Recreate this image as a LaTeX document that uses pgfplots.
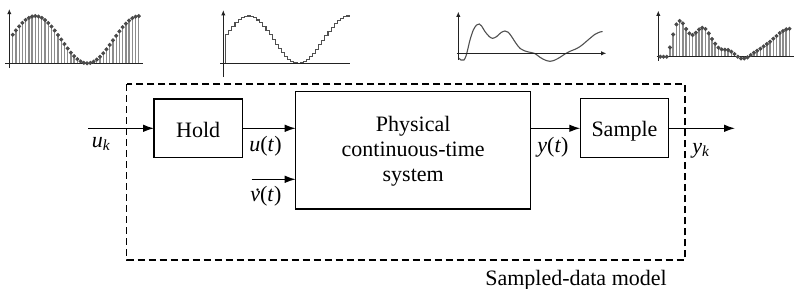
\documentclass[border=0pt]{standalone}
\usepackage{pgfplots}
\pgfplotsset{compat=1.18}
\usepackage{pgfplotstable}
\usepackage{fontspec}
\setmainfont{Liberation Serif}
\usetikzlibrary{arrows.meta}
\definecolor{stemgray}{HTML}{8C8C8C}
\definecolor{markgray}{HTML}{4A4A4A}
\definecolor{curvegray}{HTML}{505050}
\definecolor{axgray}{HTML}{222222}

\pgfplotstableread{
k v
0 1.208
1 1.394
2 1.565
3 1.714
4 1.836
5 1.927
6 1.982
7 2.000
8 1.980
9 1.924
10 1.831
11 1.708
12 1.558
13 1.386
14 1.200
15 1.007
16 0.813
17 0.627
18 0.454
19 0.300
20 0.177
21 0.080
22 0.022
23 0.000
24 0.016
25 0.069
26 0.157
27 0.276
28 0.423
29 0.591
30 0.779
31 0.972
32 1.166
33 1.355
34 1.529
35 1.682
36 1.810
37 1.911
38 1.973
39 1.999
}\sampled

\pgfplotstableread{
k v
0 0
0 1.208
1 1.394
2 1.565
3 1.714
4 1.836
5 1.927
6 1.982
7 2.000
8 1.980
9 1.924
10 1.831
11 1.708
12 1.558
13 1.386
14 1.200
15 1.007
16 0.813
17 0.627
18 0.454
19 0.300
20 0.177
21 0.080
22 0.022
23 0.000
24 0.016
25 0.069
26 0.157
27 0.276
28 0.423
29 0.591
30 0.779
31 0.972
32 1.166
33 1.355
34 1.529
35 1.682
36 1.810
37 1.911
38 1.973
39 1.999
40 1.999
}\held

\pgfplotstableread{
t y
0 -4.3
2.7 -6.7
5.7 -6.7
7.7 -2.7
9.3 3.3
11.7 13.3
15 23.3
18.3 28.3
21 29.3
23.3 27.3
26.7 21.7
31 16.7
34.3 15
38.3 16.7
42.7 20.7
46.7 22.3
50 21
53.3 16.7
57.7 10
61.7 5
66.7 2.3
71.7 1
76.7 -0.3
81.7 -4
86.7 -6.7
91.7 -8
96.7 -6.7
101.7 -4
106.7 -0.7
111.7 2
116.7 4
121.7 6.7
126.7 10.7
131.7 15
136.7 19
141.7 21.3
144.3 21.7
}\continuous

\pgfplotstableread{
j h
0 0
1 0
2 0
3 9.3
4 22.3
5 32.3
6 35.7
7 33.3
8 27.7
9 23.3
10 21.7
11 24
12 27.3
13 29
14 27.7
15 23.3
16 17.7
17 13
18 9
19 7.3
20 7
21 6.7
22 5
23 2.7
24 0
25 -1.7
26 -1.7
27 -0.7
28 1.7
29 4
30 6
31 8
32 10.3
33 12.7
34 15
35 18
36 20.7
37 23.7
38 25.7
39 27.3
40 28
}\outsamples

\newcommand{\vdotit}{\ooalign{\textit{v}\cr\hidewidth\kern0.1em\raisebox{-0.1em}{\textit{\char"02D9}}\hidewidth\cr}}

\begin{document}
\begin{tikzpicture}[x=0.5pt,y=-0.5pt,font=\fontsize{11}{12.5}\selectfont,
  big/.style={line width=0.65pt,-{Latex[length=5.5pt,width=3.8pt]}},
  small/.style={line width=0.5pt,draw=axgray,-{Latex[length=2.6pt,width=2.2pt]}}]
\useasboundingbox (0,0) rectangle (794,289);
\coordinate (A1) at (5,68);
\coordinate (A2) at (220,77);
\coordinate (A3) at (456.7,60);
\coordinate (A4) at (656.7,60.7);

% plot 1: sampled input
\begin{axis}[at={(A1)},anchor=south west,scale only axis,width=69pt,height=29.5pt,
  xmin=-2.38,xmax=40.3,ymin=-0.2,ymax=2.3,hide axis,clip=false]
\addplot[ycomb,draw=stemgray,line width=0.65pt] table[x=k,y=v]{\sampled};
\addplot[only marks,mark=*,mark size=0.8pt,markgray] table[x=k,y=v]{\sampled};
\draw[small] (axis cs:-1.05,-0.2) -- (axis cs:-1.05,2.3);
\draw[line width=0.5pt,axgray] (axis cs:-2.38,0) -- (axis cs:40.3,0);
\end{axis}

% plot 2: held signal
\begin{axis}[at={(A2)},anchor=south west,scale only axis,width=65pt,height=33.45pt,
  xmin=-1.84,xmax=40.1,ymin=-0.58,ymax=2.25,hide axis,clip=false]
\addplot[const plot,draw=curvegray,line width=0.55pt] table[x=k,y=v]{\held};
\draw[small] (axis cs:-0.77,-0.58) -- (axis cs:-0.77,2.25);
\draw[line width=0.5pt,axgray] (axis cs:-1.84,0) -- (axis cs:40.1,0);
\end{axis}

% plot 3: continuous output
\begin{axis}[at={(A3)},anchor=south west,scale only axis,width=74.8pt,height=24.15pt,
  xmin=-1.6,xmax=148,ymin=-6.7,ymax=41.6,hide axis,clip=false]
\addplot[smooth,draw=curvegray,line width=0.55pt] table[x=t,y=y]{\continuous};
\draw[small] (axis cs:0,-6.7) -- (axis cs:0,41.6);
\draw[small] (axis cs:-1.6,0) -- (axis cs:148,0);
\end{axis}

% plot 4: sampled output
\begin{axis}[at={(A4)},anchor=south west,scale only axis,width=68.65pt,height=25pt,
  xmin=-1.11,xmax=41.4,ymin=-4,ymax=46,hide axis,clip=false]
\addplot[ycomb,draw=stemgray,line width=0.8pt] table[x=j,y=h]{\outsamples};
\addplot[only marks,mark=*,mark size=0.8pt,markgray] table[x=j,y=h]{\outsamples};
\draw[small] (axis cs:-0.62,-4) -- (axis cs:-0.62,46);
\draw[line width=0.5pt,axgray] (axis cs:-1.11,0) -- (axis cs:41.4,0);
\end{axis}

% block diagram
\draw[line width=0.6pt,dash pattern=on 3.5pt off 2pt] (126.7,84) rectangle (685,260);
\draw[line width=0.6pt] (154,99) rectangle (242.3,157.3);
\draw[line width=0.6pt] (295.7,91.7) rectangle (530.7,209);
\draw[line width=0.6pt] (580.3,98.3) rectangle (668.7,157.3);
\draw[big] (88,128.3) -- (154,128.3);
\draw[big] (242.3,128.3) -- (295.7,128.3);
\draw[big] (251.7,179.3) -- (295.7,179.3);
\draw[big] (530.7,128.3) -- (580.3,128.3);
\draw[big] (668.7,128.3) -- (735,128.3);

\node[anchor=base] at (198.2,137.3) {Hold};
\node[anchor=base] at (624.5,136.7) {Sample};
\node[anchor=base] at (413.2,131.5) {Physical};
\node[anchor=base] at (413.2,156.5) {continuous-time};
\node[anchor=base] at (413.2,181.5) {system};
\node[anchor=base] at (576,285) {Sampled-data model};

\node[anchor=base west,inner sep=0pt] at (91.5,147) {\textit{u}\textsubscript{\textit{k}}};
\node[anchor=base west,inner sep=0pt] at (249,151.5) {\textit{u}(\textit{t})};
\node[anchor=base west,inner sep=0pt] at (250,201.5) {\vdotit(\textit{t})};
\node[anchor=base west,inner sep=0pt] at (537,152) {\textit{y}(\textit{t})};
\node[anchor=base west,inner sep=0pt] at (692,153.5) {\textit{y}\textsubscript{\textit{k}}};
\end{tikzpicture}
\end{document}
